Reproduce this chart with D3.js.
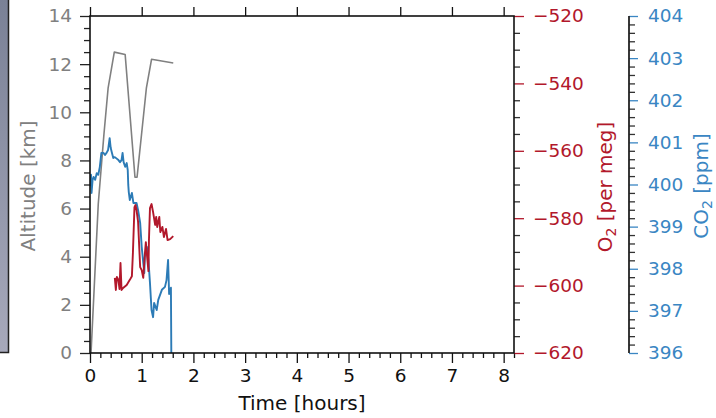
<!DOCTYPE html>
<html>
<head>
<meta charset="utf-8">
<script src="https://cdn.jsdelivr.net/npm/d3@7"></script>
<style>
  html, body { margin: 0; padding: 0; background: #fff; }
  svg { display: block; font-family: "DejaVu Sans", sans-serif; }
</style>
</head>
<body>
<svg id="chart" width="716" height="418"></svg>
<script>
// Flight profile: altitude, O2 and CO2 against time since take-off
const altTime = [0.02, 0.16, 0.27, 0.35, 0.47, 0.68, 0.87, 0.91, 1.09, 1.19, 1.61];
const altitude = [0.0, 6.2, 9.1, 11.0, 12.5, 12.4, 7.3, 7.3, 11.0, 12.2, 12.05];

const o2Time = [0.48, 0.50, 0.52, 0.55, 0.57, 0.59, 0.61, 0.64, 0.71, 0.77, 0.81, 0.83, 0.86, 0.88,
  0.90, 0.93, 0.97, 1.00, 1.03, 1.06, 1.08, 1.11, 1.13, 1.14, 1.16, 1.19, 1.22, 1.26, 1.28, 1.30,
  1.34, 1.36, 1.40, 1.43, 1.47, 1.50, 1.55, 1.61];
const o2 = [-597.7, -601.3, -597.4, -598.3, -601.0, -593.3, -601.3, -600.7, -599.8, -598.3, -597.2,
  -590.3, -576.7, -576.1, -577.6, -581.1, -594.5, -595.4, -597.7, -590.9, -587.1, -592.4, -595.7,
  -586.5, -577.0, -575.8, -578.2, -582.0, -579.6, -582.6, -579.6, -584.1, -582.6, -585.6, -583.2,
  -586.5, -586.2, -585.3];

const co2Time = [0.01, 0.02, 0.03, 0.05, 0.07, 0.10, 0.13, 0.16, 0.19, 0.22, 0.26, 0.29, 0.32, 0.35,
  0.38, 0.40, 0.42, 0.45, 0.48, 0.55, 0.58, 0.61, 0.63, 0.65, 0.68, 0.71, 0.73, 0.74, 0.75, 0.77,
  0.81, 0.84, 0.90, 0.93, 0.97, 1.00, 1.03, 1.05, 1.06, 1.10, 1.13, 1.16, 1.19, 1.22, 1.24, 1.29,
  1.32, 1.39, 1.45, 1.48, 1.51, 1.53, 1.55, 1.565, 1.575];
const co2 = [399.96, 400.23, 399.80, 400.11, 400.18, 400.11, 400.27, 400.23, 400.42, 400.75, 400.75,
  400.70, 400.75, 400.82, 401.10, 400.87, 400.77, 400.63, 400.65, 400.58, 400.53, 400.58, 400.75,
  400.53, 400.42, 400.51, 400.34, 399.99, 399.82, 399.63, 399.80, 399.56, 399.56, 399.39, 399.09,
  398.52, 398.14, 397.90, 398.28, 398.52, 398.21, 397.66, 397.02, 396.85, 397.19, 397.02, 397.26,
  397.50, 397.57, 397.73, 398.21, 397.40, 397.50, 397.55, 395.50];

const hourTicks = [0, 1, 2, 3, 4, 5, 6, 7, 8];
const altTicks = [0, 2, 4, 6, 8, 10, 12, 14];
const o2Ticks = [-620, -600, -580, -560, -540, -520];
const co2Ticks = [396, 397, 398, 399, 400, 401, 402, 403, 404];

const GRAY = "#808080", RED = "#b2182b", BLUE = "#2c7bb6", BLUE_TXT = "#3a86c3";
const FS = "18.5px", TITLE_FS = "20px";

const svg = d3.select("#chart");
const L = 90, R = 514, T = 16, B = 353, CO2X = 629;

const x = d3.scaleLinear().domain([0, 8.2]).range([L, R]);
const yAlt = d3.scaleLinear().domain([0, 14]).range([B, T]);
const yO2 = d3.scaleLinear().domain([-620, -520]).range([B, T]);
const yCO2 = d3.scaleLinear().domain([396, 404]).range([B, T]);

// background panel strip at the far left
const defs = svg.append("defs");
const grad = defs.append("linearGradient").attr("id", "panelGrad")
  .attr("x1", 0).attr("y1", 0).attr("x2", 0).attr("y2", 1);
grad.append("stop").attr("offset", 0).attr("stop-color", "#7a8196");
grad.append("stop").attr("offset", 1).attr("stop-color", "#a7a9bb");
svg.append("rect").attr("x", 0).attr("y", 0).attr("width", 9).attr("height", B)
  .attr("fill", "url(#panelGrad)");
svg.append("path").attr("d", `M8.5,0V${B - 0.5}H0`).attr("fill", "none")
  .attr("stroke", "#222").attr("stroke-width", 1.5);

defs.append("clipPath").attr("id", "plotClip")
  .append("rect").attr("x", L).attr("y", T).attr("width", R - L).attr("height", B - T);

function minorRange(a, b, step) {
  const out = [];
  const n = Math.round((b - a) / step);
  for (let i = 0; i <= n; i++) out.push(+(a + i * step).toFixed(6));
  return out;
}

function styleAxis(g, tickColor, textColor) {
  g.select(".domain").remove();
  g.selectAll(".tick line").attr("stroke", tickColor).attr("stroke-width", 1.3);
  g.selectAll(".tick text").attr("fill", textColor).style("font-size", FS)
    .style("font-family", "'DejaVu Sans', sans-serif");
}

// bottom axis (time)
const xMinor = minorRange(0, 8.2, 0.2).filter(v => Math.abs(v - Math.round(v)) > 1e-6);
svg.append("g").attr("transform", `translate(0,${B})`)
  .call(d3.axisBottom(x).tickValues(xMinor).tickSize(5).tickFormat(""))
  .call(g => styleAxis(g, "#111", "#111"));
svg.append("g").attr("transform", `translate(0,${B})`)
  .call(d3.axisBottom(x).tickValues(hourTicks).tickSize(10).tickPadding(6).tickFormat(d3.format("d")))
  .call(g => styleAxis(g, "#111", "#111"));
// top axis, marks only
svg.append("g").attr("transform", `translate(0,${T})`)
  .call(d3.axisTop(x).tickValues(hourTicks).tickSize(9).tickFormat(""))
  .call(g => styleAxis(g, "#111", "#111"));

// left axis (altitude)
const altMinor = minorRange(0, 14, 0.5).filter(v => v % 2 !== 0);
svg.append("g").attr("transform", `translate(${L},0)`)
  .call(d3.axisLeft(yAlt).tickValues(altMinor).tickSize(6).tickFormat(""))
  .call(g => styleAxis(g, "#222", GRAY));
svg.append("g").attr("transform", `translate(${L},0)`)
  .call(d3.axisLeft(yAlt).tickValues(altTicks).tickSize(10).tickPadding(8).tickFormat(d3.format("d")))
  .call(g => styleAxis(g, "#222", GRAY));

// right axis (O2) on the plot frame
const o2Minor = minorRange(-620, -520, 5).filter(v => v % 20 !== 0);
svg.append("g").attr("transform", `translate(${R},0)`)
  .call(d3.axisRight(yO2).tickValues(o2Minor).tickSize(6).tickFormat(""))
  .call(g => styleAxis(g, "#333", RED));
svg.append("g").attr("transform", `translate(${R},0)`)
  .call(d3.axisRight(yO2).tickValues(o2Ticks).tickSize(10).tickPadding(9).tickFormat(d3.format("d")))
  .call(g => styleAxis(g, RED, RED));

// offset right axis (CO2)
const co2Minor = minorRange(396, 404, 0.2).filter(v => Math.abs(v - Math.round(v)) > 1e-6);
svg.append("g").attr("transform", `translate(${CO2X},0)`)
  .call(d3.axisRight(yCO2).tickValues(co2Minor).tickSize(6).tickFormat(""))
  .call(g => styleAxis(g, "#333", BLUE_TXT));
svg.append("g").attr("transform", `translate(${CO2X},0)`)
  .call(d3.axisRight(yCO2).tickValues(co2Ticks).tickSize(9).tickPadding(10).tickFormat(d3.format("d")))
  .call(g => styleAxis(g, BLUE_TXT, BLUE_TXT));
svg.append("line").attr("x1", CO2X).attr("x2", CO2X).attr("y1", T).attr("y2", B)
  .attr("stroke", "#222").attr("stroke-width", 1.8);

// data lines
const plot = svg.append("g").attr("clip-path", "url(#plotClip)");
const mkLine = (xs, ys, yScale) => d3.line()
  .x((d, i) => x(xs[i])).y((d, i) => yScale(ys[i]))(ys);

plot.append("path").attr("d", mkLine(altTime, altitude, yAlt))
  .attr("fill", "none").attr("stroke", GRAY).attr("stroke-width", 1.6).attr("stroke-linejoin", "round");
plot.append("path").attr("d", mkLine(co2Time, co2, yCO2))
  .attr("fill", "none").attr("stroke", BLUE).attr("stroke-width", 1.9).attr("stroke-linejoin", "round");
plot.append("path").attr("d", mkLine(o2Time, o2, yO2))
  .attr("fill", "none").attr("stroke", RED).attr("stroke-width", 1.9).attr("stroke-linejoin", "round");

// plot frame
svg.append("rect").attr("x", L).attr("y", T).attr("width", R - L).attr("height", B - T)
  .attr("fill", "none").attr("stroke", "#111").attr("stroke-width", 1.6);

// axis titles
const axisTitle = (tx, ty, rot, color, main, sub, rest) => {
  const t = svg.append("text")
    .attr("transform", `translate(${tx},${ty}) rotate(${rot})`)
    .attr("text-anchor", "middle").attr("fill", color).style("font-size", TITLE_FS);
  t.append("tspan").text(main);
  if (sub) {
    t.append("tspan").text(sub).style("font-size", "14px").attr("dy", 4);
    t.append("tspan").text(rest).attr("dy", -4);
  }
  return t;
};
axisTitle(302, 409.5, 0, "#111", "Time [hours]");
axisTitle(34.5, 186, -90, GRAY, "Altitude [km]");
axisTitle(612, 187, -90, RED, "O", "2", " [per meg]");
axisTitle(708, 186, -90, BLUE_TXT, "CO", "2", " [ppm]");
</script>
</body>
</html>
